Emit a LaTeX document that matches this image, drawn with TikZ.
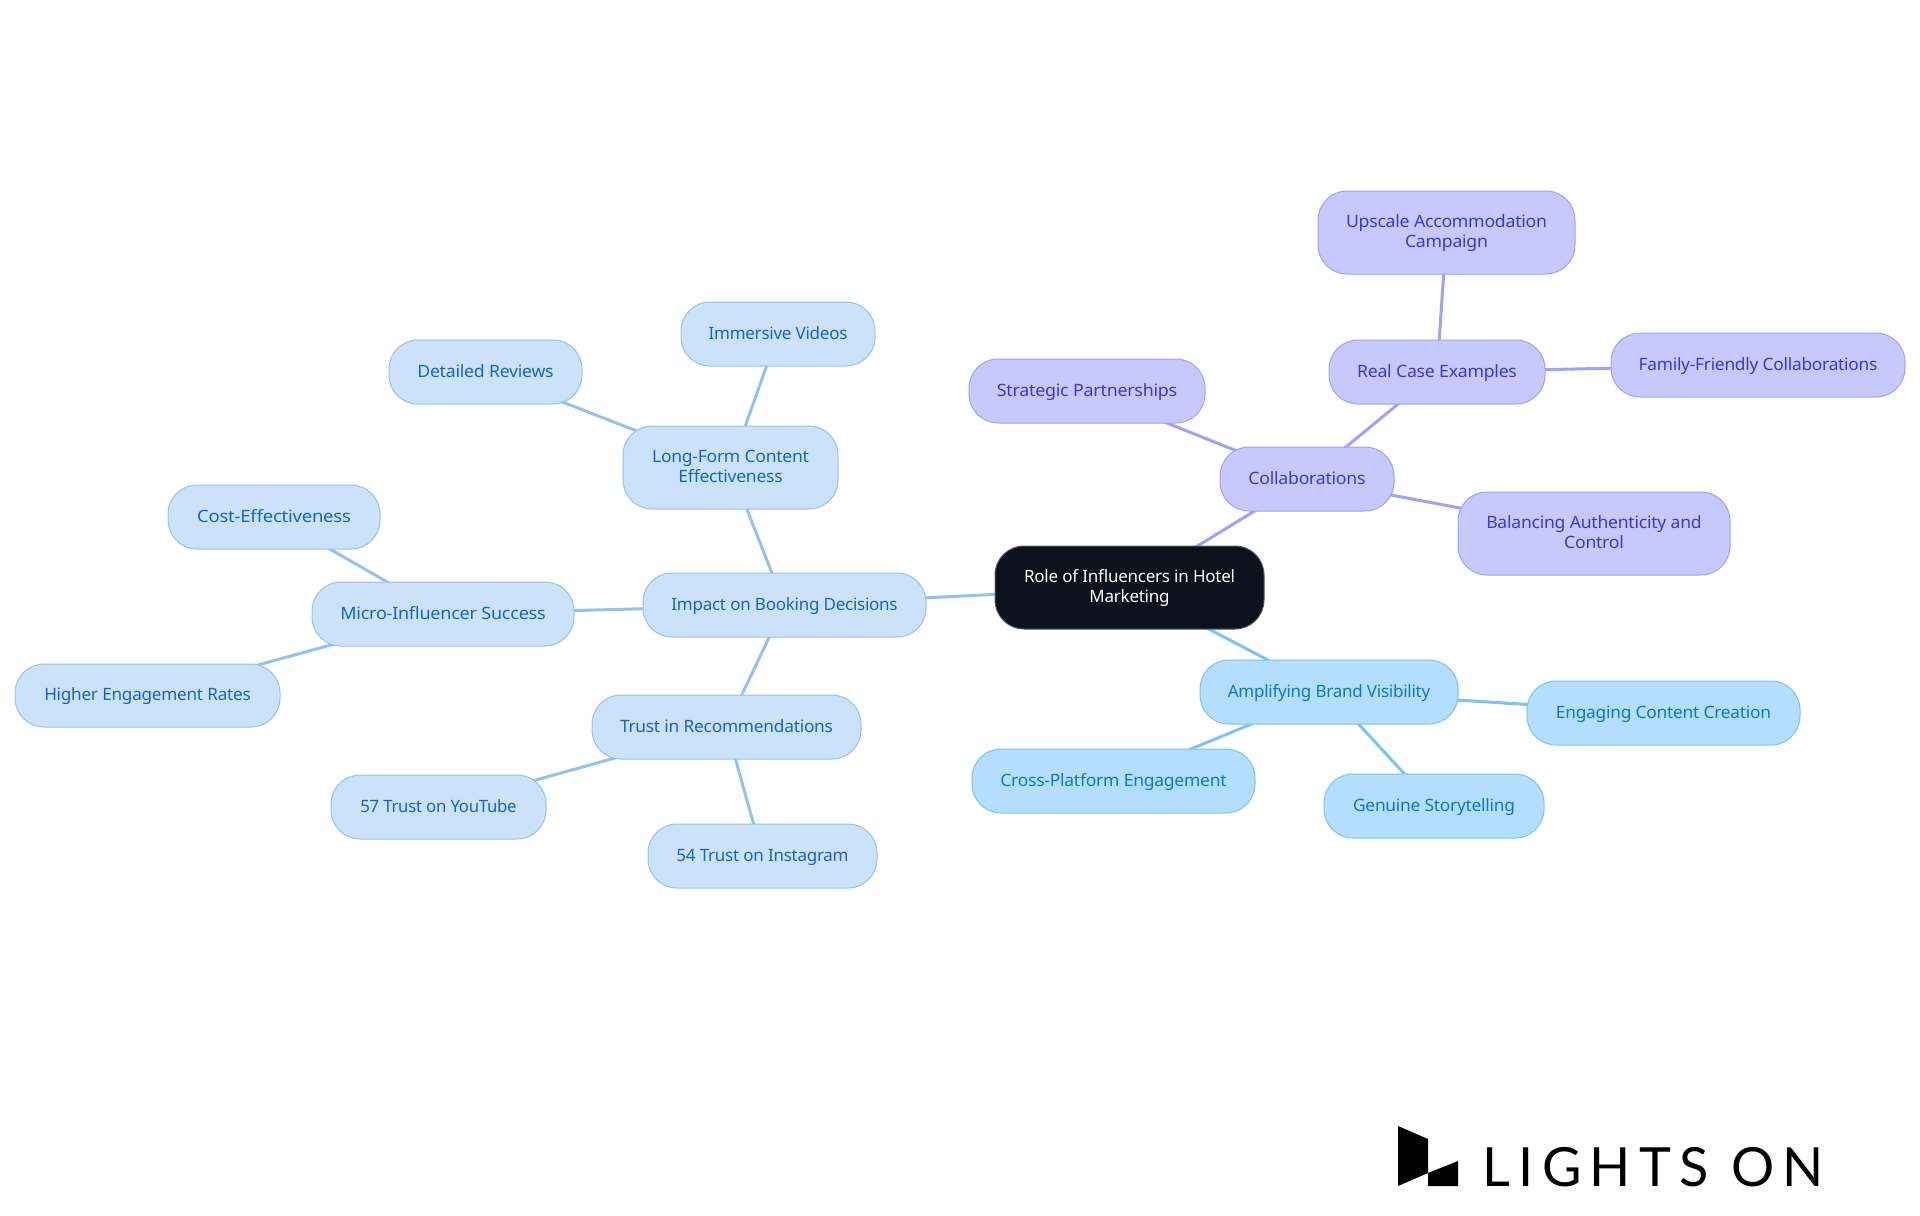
\documentclass[tikz,border=0pt]{standalone}
\usepackage{fontspec}
\usetikzlibrary{backgrounds}
\setmainfont{Noto Sans}
\newfontfamily\logofont[LetterSpace=15.5]{Lato}
\definecolor{bluefill}{HTML}{CCE2FB}
\definecolor{bluetext}{HTML}{1565C8}
\definecolor{blueline}{HTML}{94C1F1}
\definecolor{purplefill}{HTML}{C7C8FC}
\definecolor{purpletext}{HTML}{3A3AD2}
\definecolor{purpleline}{HTML}{A0A2F5}
\definecolor{skyfill}{HTML}{B3DEFF}
\definecolor{skytext}{HTML}{0B79CC}
\definecolor{skyline}{HTML}{7CC3F2}
\definecolor{rootfill}{HTML}{0B121B}
\newcommand{\topstrut}{\rule{0pt}{8pt}}
\newcommand{\botstrut}{\rule[-3pt]{0pt}{3pt}}
\tikzset{
  mind/.style={rectangle,rounded corners=14.5pt,inner sep=0pt,line width=0.5pt,align=center,
    font=\fontsize{8.5}{9.65}\selectfont\addfontfeature{LetterSpace=-1.5}},
  stretched/.style={font=\fontsize{8.5}{9.65}\selectfont\addfontfeature{LetterSpace=-1.5,FakeStretch=#1}},
  rootbox/.style={mind,draw=rootfill!70!white,fill=rootfill,text=white},
  bluebox/.style={mind,draw=blueline,fill=bluefill,text=bluetext},
  purplebox/.style={mind,draw=purpleline,fill=purplefill,text=purpletext},
  skybox/.style={mind,draw=skyline,fill=skyfill,text=skytext},
  blueedge/.style={draw=blueline,line width=1.5pt},
  purpleedge/.style={draw=purpleline,line width=1.5pt},
  skyedge/.style={draw=skyline,line width=1.5pt},
}
\newcommand{\mm}[7]{\node[#2,minimum width={(#5-#3)*0.5pt},minimum height={(#6-#4)*0.5pt}] (#1) at ({(#3+#5)/2},{(#4+#6)/2}) {\topstrut#7\botstrut};}
\begin{document}
\begin{tikzpicture}[x=0.5pt,y=-0.5pt]
\useasboundingbox (0,0) rectangle (1920,1215);
\mm{root}{rootbox}{995}{546}{1264}{629}{Role of Influencers in Hotel\\Marketing}
\mm{impact}{bluebox}{643}{573}{926}{637}{Impact on Booking Decisions}
\mm{long}{bluebox,stretched=1.03}{623}{426}{838}{509}{Long-Form Content\\Effectiveness}
\mm{reviews}{bluebox,stretched=1.04}{389}{340}{582}{404}{Detailed Reviews}
\mm{videos}{bluebox}{681}{302}{875}{366}{Immersive Videos}
\mm{micro}{bluebox,stretched=1.06}{312}{582}{574}{646}{Micro-Influencer Success}
\mm{cost}{bluebox,stretched=1.09}{168}{485}{380}{549}{Cost-Effectiveness}
\mm{higher}{bluebox,stretched=1.01}{15}{664}{280}{727}{Higher Engagement Rates}
\mm{trust}{bluebox,stretched=1.02}{592}{695}{861}{759}{Trust in Recommendations}
\mm{yt}{bluebox,stretched=0.985}{331}{775}{546}{839}{57 Trust on YouTube}
\mm{ig}{bluebox}{648}{824}{877}{888}{54 Trust on Instagram}
\mm{collab}{purplebox,stretched=1.04}{1220}{447}{1394}{511}{Collaborations}
\mm{strategic}{purplebox,stretched=1.05}{969}{359}{1205}{423}{Strategic Partnerships}
\mm{real}{purplebox,stretched=1.04}{1329}{340}{1545}{404}{Real Case Examples}
\mm{upscale}{purplebox,stretched=1.04}{1318}{191}{1575}{274}{Upscale Accommodation\\Campaign}
\mm{family}{purplebox,stretched=1.02}{1611}{333}{1905}{397}{Family-Friendly Collaborations}
\mm{balance}{purplebox,stretched=1.035}{1458}{492}{1730}{575}{Balancing Authenticity and\\Control}
\mm{amplify}{skybox}{1200}{660}{1458}{724}{Amplifying Brand Visibility}
\mm{engaging}{skybox,stretched=1.02}{1527}{681}{1800}{745}{Engaging Content Creation}
\mm{cross}{skybox,stretched=1.03}{972}{749}{1255}{813}{Cross-Platform Engagement}
\mm{genuine}{skybox,stretched=1.02}{1324}{774}{1544}{838}{Genuine Storytelling}
\begin{scope}[on background layer]
\draw[blueedge] (root.center) -- (impact.center);
\draw[blueedge] (impact.center) -- (long.center);
\draw[blueedge] (long.center) -- (reviews.center);
\draw[blueedge] (long.center) -- (videos.center);
\draw[blueedge] (impact.center) -- (micro.center);
\draw[blueedge] (micro.center) -- (cost.center);
\draw[blueedge] (micro.center) -- (higher.center);
\draw[blueedge] (impact.center) -- (trust.center);
\draw[blueedge] (trust.center) -- (yt.center);
\draw[blueedge] (trust.center) -- (ig.center);
\draw[purpleedge] (root.center) -- (collab.center);
\draw[purpleedge] (collab.center) -- (strategic.center);
\draw[purpleedge] (collab.center) -- (real.center);
\draw[purpleedge] (collab.center) -- (balance.center);
\draw[purpleedge] (real.center) -- (upscale.center);
\draw[purpleedge] (real.center) -- (family.center);
\draw[skyedge] (root.center) -- (amplify.center);
\draw[skyedge] (amplify.center) -- (engaging.center);
\draw[skyedge] (amplify.center) -- (cross.center);
\draw[skyedge] (amplify.center) -- (genuine.center);
\end{scope}
\fill[black] (1398,1126) -- (1428,1139) -- (1428,1173) -- (1398,1186) -- cycle;
\fill[black] (1428,1173) -- (1458,1161) -- (1458,1186) -- (1428,1186) -- cycle;
\node[anchor=base west,inner sep=0pt,text=black,font=\logofont\fontsize{27}{27}\selectfont] (logo) at (1482,1186) {LIGHTS ON};
\end{tikzpicture}
\end{document}
